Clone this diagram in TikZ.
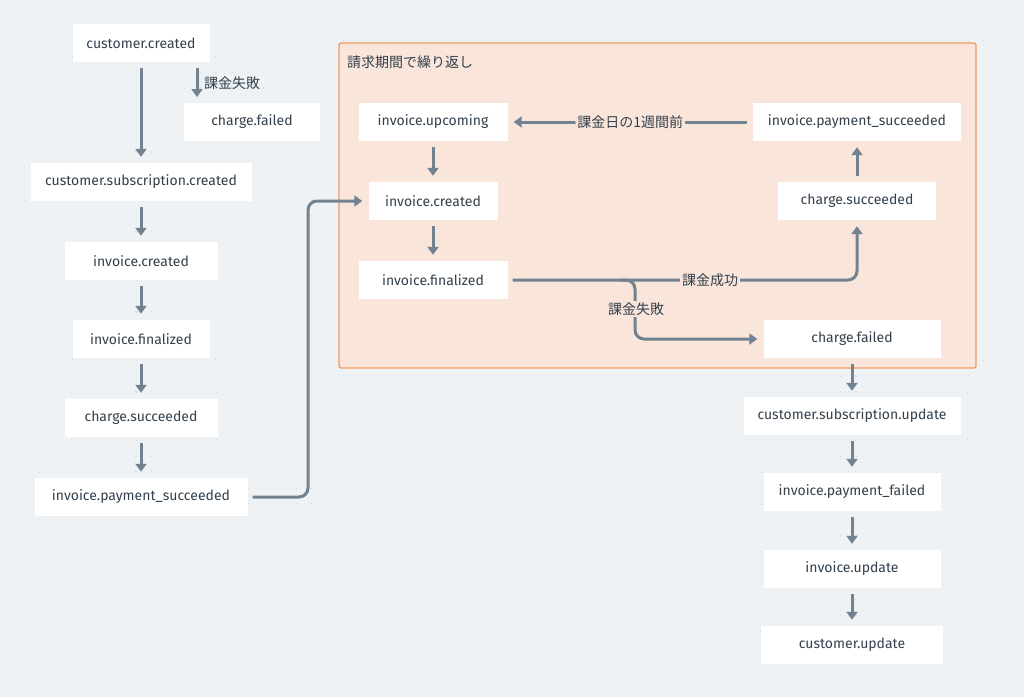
\documentclass[tikz,border=0pt]{standalone}
\usepackage{fontspec}
\setmainfont{Fira Sans}
\newfontfamily\cjk{Noto Sans CJK JP}
\usetikzlibrary{arrows.meta}
\definecolor{bg}{HTML}{EEF2F5}
\definecolor{dotc}{HTML}{B8C2CC}
\definecolor{ln}{HTML}{738290}
\definecolor{tx}{HTML}{33404C}
\definecolor{ofill}{HTML}{F9E5DA}
\definecolor{oline}{HTML}{EE9A62}
\begin{document}
\begin{tikzpicture}[x=1pt,y=-1pt,
  box/.style={fill=white,text=tx,font=\fontsize{14}{16}\selectfont,inner sep=0pt,minimum height=38pt},
  arr/.style={draw=ln,line width=3pt,-{Triangle[length=8pt,width=11pt]},rounded corners=9pt},
  lab/.style={text=tx,font=\cjk\fontsize{14}{16}\selectfont,inner sep=2pt}]
\fill[bg] (0,0) rectangle (1024,697);
\useasboundingbox (0,0) rectangle (1024,697);
\foreach \i in {0,...,63}{\foreach \j in {0,...,43}{\fill[dotc] (8+16*\i,8+16*\j) circle (0.8pt);}}
\draw[fill=ofill,draw=oline,line width=1.3pt,rounded corners=2pt] (339,43) rectangle (976,368);
\node[lab,anchor=west] (title) at (345,62) {請求期間で繰り返し};
% left column
\node[box,minimum width=137pt] (cc) at (141,43) {customer.created};
\node[box,minimum width=136pt] (cf1) at (252,122) {charge.failed};
\node[box,minimum width=221pt] (csc) at (141,182) {customer.subscription.created};
\node[box,minimum width=153pt] (ic1) at (141,261) {invoice.created};
\node[box,minimum width=137pt] (if1) at (141,339) {invoice.finalized};
\node[box,minimum width=153pt] (cs1) at (141,418) {charge.succeeded};
\node[box,minimum width=213pt] (ips1) at (141,497) {invoice.payment\_succeeded};
% loop
\node[box,minimum width=149pt] (iu) at (433,122) {invoice.upcoming};
\node[box,minimum width=129pt] (ic2) at (433,201) {invoice.created};
\node[box,minimum width=149pt] (if2) at (433,280) {invoice.finalized};
\node[box,minimum width=208pt] (ips2) at (857,122) {invoice.payment\_succeeded};
\node[box,minimum width=158pt] (cs2) at (857,201) {charge.succeeded};
\node[box,minimum width=177pt] (cf2) at (852,339) {charge.failed};
% right column
\node[box,minimum width=217pt] (csu) at (852,416) {customer.subscription.update};
\node[box,minimum width=177pt] (ipf) at (852,492) {invoice.payment\_failed};
\node[box,minimum width=177pt] (iup) at (852,569) {invoice.update};
\node[box,minimum width=182pt] (cu) at (852,645) {customer.update};
% arrows left
\draw[arr] ([yshift=-6pt]cc.south) -- ([yshift=6pt]csc.north);
\draw[arr] (197,68) -- (197,97);
\node[lab,anchor=west] (l0) at (202,83) {課金失敗};
\draw[arr] ([yshift=-6pt]csc.south) -- ([yshift=6pt]ic1.north);
\draw[arr] ([yshift=-6pt]ic1.south) -- ([yshift=6pt]if1.north);
\draw[arr] ([yshift=-6pt]if1.south) -- ([yshift=6pt]cs1.north);
\draw[arr] ([yshift=-6pt]cs1.south) -- ([yshift=6pt]ips1.north);
\draw[arr] ([xshift=5pt]ips1.east) -- (308,497) -- (308,201) -- ([xshift=-6pt]ic2.west);
% loop arrows
\draw[arr] ([yshift=-6pt]iu.south) -- ([yshift=6pt]ic2.north);
\draw[arr] ([yshift=-6pt]ic2.south) -- ([yshift=6pt]if2.north);
\draw[arr] ([yshift=6pt]cs2.north) -- ([yshift=-6pt]ips2.south);
\draw[arr] ([xshift=-6pt]ips2.west) -- ([xshift=6pt]iu.east) node[midway,lab,fill=ofill] (l1) {課金日の1週間前};
\draw[arr] ([xshift=5pt]if2.east) -- (857,280) -- ([yshift=-6pt]cs2.south);
\node[lab,fill=ofill] (l2) at (710,280) {課金成功};
\draw[arr] (620,280) -- (635,280) -- (635,339) -- ([xshift=-6pt]cf2.west);
\node[lab,fill=ofill] (l3) at (636,309) {課金失敗};
% right column arrows
\draw[arr] ([yshift=-6pt]cf2.south) -- ([yshift=6pt]csu.north);
\draw[arr] ([yshift=-6pt]csu.south) -- ([yshift=6pt]ipf.north);
\draw[arr] ([yshift=-6pt]ipf.south) -- ([yshift=6pt]iup.north);
\draw[arr] ([yshift=-6pt]iup.south) -- ([yshift=6pt]cu.north);
\end{tikzpicture}
\end{document}
